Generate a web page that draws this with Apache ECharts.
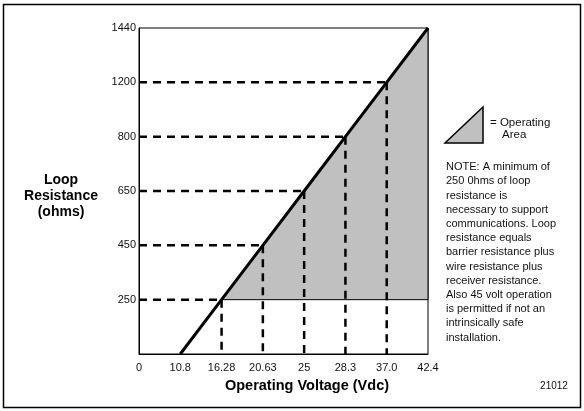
<!DOCTYPE html>
<html>
<head>
<meta charset="utf-8">
<script src="https://cdn.jsdelivr.net/npm/echarts@6/dist/echarts.min.js"></script>
<style>
html,body{margin:0;padding:0;background:#fff;}
#chart{width:584px;height:411px;}
</style>
</head>
<body>
<div id="chart"></div>
<script>
// Tick labels (axes are drawn as ordinal scales, as in the original schematic)
const voltageTicks = ['0', '10.8', '16.28', '20.63', '25', '28.3', '37.0', '42.4'];
const resistanceTicks = ['0', '250', '450', '650', '800', '1200', '1440'];
// Minimum loop resistance line (voltage -> resistance)
const lineVoltage = ['10.8', '16.28', '20.63', '25', '28.3', '37.0', '42.4'];
const lineResistance = ['0', '250', '450', '650', '800', '1200', '1440'];
// Reference (dashed) points
const refVoltage = ['16.28', '20.63', '25', '28.3', '37.0'];
const refResistance = ['250', '450', '650', '800', '1200'];
// Operating area lower bound
const minResistance = '250';
const maxVoltage = '42.4';

const noteLines = [
  'NOTE: A minimum of', '250 0hms of loop', 'resistance is', 'necessary to support',
  'communications. Loop', 'resistance equals', 'barrier resistance plus',
  'wire resistance plus', 'receiver resistance.', 'Also 45 volt operation',
  'is permitted if not an', 'intrinsically safe', 'installation.'
];

const FONT = '"Liberation Sans", Arial, sans-serif';
const xi = v => voltageTicks.indexOf(v);
const yi = r => resistanceTicks.indexOf(r);

const lineData = lineVoltage.map((v, i) => [xi(v), yi(lineResistance[i])]);
const refData = refVoltage.map((v, i) => [xi(v), yi(refResistance[i])]);

// polygon: line points from min resistance upward, then corner at (maxVoltage, minResistance)
const startIdx = lineResistance.indexOf(minResistance);
const areaPts = lineData.slice(startIdx).concat([[xi(maxVoltage), yi(minResistance)]]);

const chart = echarts.init(document.getElementById('chart'), null, {renderer: 'canvas'});
chart.setOption({
  animation: false,
  backgroundColor: '#fff',
  grid: {left: 139, top: 28, right: 156, bottom: 57, show: true, borderColor: '#000', borderWidth: 1, containLabel: false, outerBoundsMode: 'none'},
  xAxis: {
    type: 'category', data: voltageTicks, boundaryGap: false,
    axisLine: {show: true, lineStyle: {color: '#000', width: 1}},
    axisTick: {show: false},
    axisLabel: {color: '#111', fontSize: 11, fontFamily: FONT, margin: 8, interval: 0},
    splitLine: {show: false}
  },
  yAxis: {
    type: 'category', data: resistanceTicks, boundaryGap: false,
    axisLine: {show: true, lineStyle: {color: '#000', width: 1}},
    axisTick: {show: false},
    axisLabel: {color: '#111', fontSize: 11, fontFamily: FONT, margin: 3, interval: 0,
      formatter: (v, i) => (i === 0 ? '' : v)},
    splitLine: {show: false}
  },
  series: [
    {
      type: 'custom', z: 1,
      data: areaPts,
      renderItem: function (params, api) {
        if (params.dataIndex !== 0) return null;
        const pts = areaPts.map(p => api.coord(p));
        return {type: 'polygon', shape: {points: pts},
          style: {fill: '#c0c0c0', stroke: '#000', lineWidth: 1}};
      }
    },
    {
      type: 'custom', z: 2,
      data: refData,
      renderItem: function (params, api) {
        const p = api.coord([api.value(0), api.value(1)]);
        const o = api.coord([0, 0]);
        const st = {stroke: '#000', lineWidth: 2.5, lineDash: [8, 6]};
        return {type: 'group', children: [
          {type: 'line', shape: {x1: o[0], y1: p[1], x2: p[0], y2: p[1]}, style: st},
          {type: 'line', shape: {x1: p[0], y1: p[1], x2: p[0], y2: o[1]}, style: st}
        ]};
      }
    },
    {
      type: 'line', z: 3, data: lineData, showSymbol: false, symbol: 'none',
      lineStyle: {color: '#000', width: 3}
    }
  ],
  graphic: [
    {type: 'rect', shape: {x: 3.5, y: 4.5, width: 577, height: 403}, style: {fill: null, stroke: '#000', lineWidth: 1.5}, silent: true},
    {type: 'text', x: 307, y: 386, style: {text: 'Operating Voltage (Vdc)', font: 'bold 14.5px ' + FONT, fill: '#000', align: 'center', verticalAlign: 'middle'}},
    {type: 'text', x: 61, y: 196, style: {text: 'Loop\nResistance\n(ohms)', font: 'bold 14px ' + FONT, fill: '#000', align: 'center', verticalAlign: 'middle', lineHeight: 16}},
    {type: 'polygon', shape: {points: [[445, 143], [483, 107], [483, 143]]}, style: {fill: '#c0c0c0', stroke: '#000', lineWidth: 1.5}},
    {type: 'text', x: 490, y: 123, style: {text: '= Operating', font: '11.5px ' + FONT, fill: '#111', align: 'left', verticalAlign: 'middle'}},
    {type: 'text', x: 502, y: 135, style: {text: 'Area', font: '11.5px ' + FONT, fill: '#111', align: 'left', verticalAlign: 'middle'}},
    {type: 'text', x: 446, y: 160, style: {text: noteLines.join('\n'), font: '11px ' + FONT, fill: '#111', align: 'left', verticalAlign: 'top', lineHeight: 14.2}},
    {type: 'text', x: 554, y: 386, style: {text: '21012', font: '10px ' + FONT, fill: '#111', align: 'center', verticalAlign: 'middle'}}
  ]
});
</script>
</body>
</html>
